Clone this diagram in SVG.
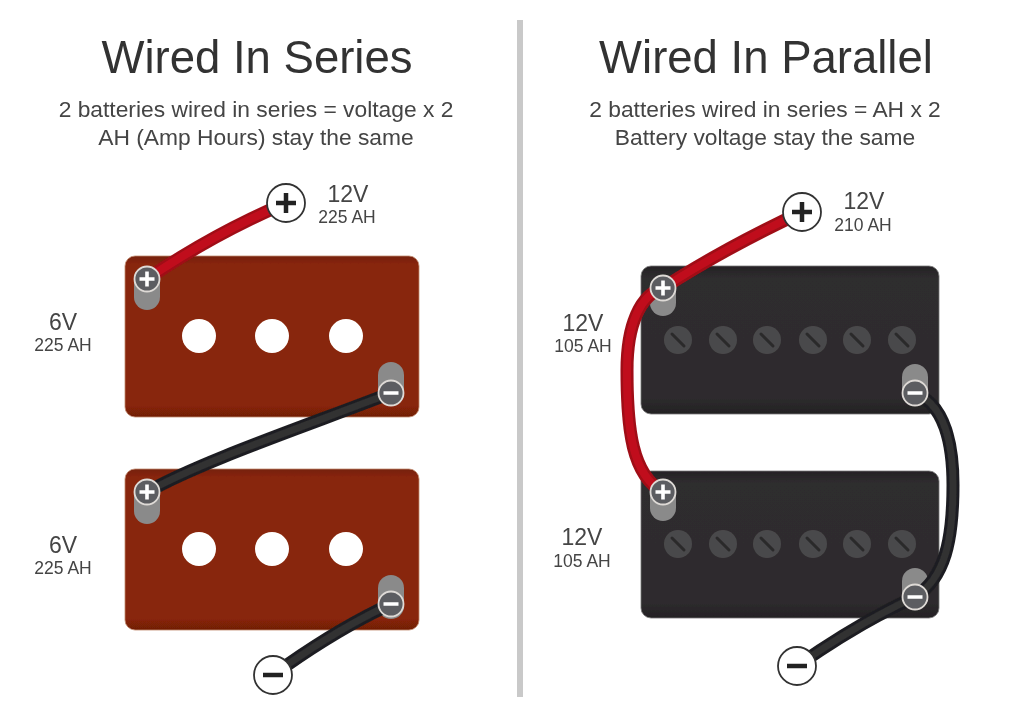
<svg xmlns="http://www.w3.org/2000/svg" width="1024" height="716" viewBox="0 0 1024 716">
<style>
text{font-family:"Liberation Sans",Arial,sans-serif;fill:#444;text-anchor:middle}
.t{font-size:45.500px;fill:#333}
.s{font-size:22.800px}
.v{font-size:23px}
.a{font-size:17.500px}
.red{fill:url(#gr);stroke:#c08a70;stroke-width:.8}
.blk{fill:url(#gk);stroke:#777;stroke-width:.8}
.hole{fill:#fff}
.screw{fill:#4a494b}
.slash{stroke:#2a292b;stroke-width:3;stroke-linecap:round}
.slot{fill:#8a8a8a}
.big{fill:#fff;stroke:#333;stroke-width:1.800}
.bigsym{stroke:#222;stroke-width:4.500;stroke-linecap:butt;fill:none}
.wr{fill:none;stroke:#a00c18;stroke-width:13}
.wrc{fill:none;stroke:#c00f1e;stroke-width:8}
.wk{fill:none;stroke:#1f1f21;stroke-width:13}
.wkc{fill:none;stroke:#303032;stroke-width:7}
.soft{filter:url(#b)}
</style>
<defs>
<filter id="b" x="-5%" y="-5%" width="110%" height="110%"><feGaussianBlur stdDeviation="0.450"/></filter>
<linearGradient id="gr" x1="0" y1="0" x2="0" y2="1"><stop offset="0" stop-color="#74200a"/><stop offset=".05" stop-color="#882507"/><stop offset=".93" stop-color="#882507"/><stop offset="1" stop-color="#701e06"/></linearGradient>
<linearGradient id="gk" x1="0" y1="0" x2="0" y2="1"><stop offset="0" stop-color="#242224"/><stop offset=".08" stop-color="#2f2d2f"/><stop offset=".9" stop-color="#2d2b2d"/><stop offset="1" stop-color="#232123"/></linearGradient>
<g id="screw"><circle class="screw" r="14"/><path class="slash" d="M-6-6L6 6"/></g>
</defs>
<rect width="1024" height="716" fill="#fff"/>
<rect id="divider" x="517" y="20" width="6" height="677" fill="#c9c9c9"/>

<g id="titles" class="soft">
<text class="t" x="257" y="73">Wired In Series</text>
<text class="s" x="256" y="117">2 batteries wired in series = voltage x 2</text>
<text class="s" x="256" y="145">AH (Amp Hours) stay the same</text>
<text class="t" x="766" y="73">Wired In Parallel</text>
<text class="s" x="765" y="117">2 batteries wired in series = AH x 2</text>
<text class="s" x="765" y="145">Battery voltage stay the same</text>
</g>

<g id="battery-s1" class="soft">
<rect class="red" x="125" y="256" width="294" height="161" rx="10"/>
<circle class="hole" cx="199" cy="336" r="17"/><circle class="hole" cx="272" cy="336" r="17"/><circle class="hole" cx="346" cy="336" r="17"/>
<text class="v" x="63" y="330">6V</text><text class="a" x="63" y="351">225 AH</text>
</g>
<g id="battery-s2" class="soft">
<rect class="red" x="125" y="469" width="294" height="161" rx="10"/>
<circle class="hole" cx="199" cy="549" r="17"/><circle class="hole" cx="272" cy="549" r="17"/><circle class="hole" cx="346" cy="549" r="17"/>
<text class="v" x="63" y="553">6V</text><text class="a" x="63" y="574">225 AH</text>
</g>
<g id="battery-p1" class="soft">
<rect class="blk" x="641" y="266" width="298" height="148" rx="10"/>
<use href="#screw" x="678" y="340"/><use href="#screw" x="723" y="340"/><use href="#screw" x="767" y="340"/><use href="#screw" x="813" y="340"/><use href="#screw" x="857" y="340"/><use href="#screw" x="902" y="340"/>
<text class="v" x="583" y="331">12V</text><text class="a" x="583" y="352">105 AH</text>
</g>
<g id="battery-p2" class="soft">
<rect class="blk" x="641" y="471" width="298" height="147" rx="10"/>
<use href="#screw" x="678" y="544"/><use href="#screw" x="723" y="544"/><use href="#screw" x="767" y="544"/><use href="#screw" x="813" y="544"/><use href="#screw" x="857" y="544"/><use href="#screw" x="902" y="544"/>
<text class="v" x="582" y="545">12V</text><text class="a" x="582" y="567">105 AH</text>
</g>

<g id="slots" class="soft">
<rect class="slot" x="134" y="266" width="26" height="44" rx="13"/>
<rect class="slot" x="378" y="362" width="26" height="44" rx="13"/>
<rect class="slot" x="134" y="480" width="26" height="44" rx="13"/>
<rect class="slot" x="378" y="575" width="26" height="44" rx="13"/>
<rect class="slot" x="650" y="275" width="26" height="41" rx="13"/>
<rect class="slot" x="902" y="364" width="26" height="42" rx="13"/>
<rect class="slot" x="650" y="479" width="26" height="42" rx="13"/>
<rect class="slot" x="902" y="568" width="26" height="42" rx="13"/>
</g>

<g id="connectors" class="soft">
<path class="wr" d="M147 279Q215 233 286 203"/>
<path class="wrc" d="M147 279Q215 233 286 203"/>
<path class="wk" d="M147 492C200 462 300 428 391 393"/>
<path class="wkc" d="M147 492C200 462 300 428 391 393"/>
<path class="wk" d="M391 604Q335 630 273 675"/>
<path class="wkc" d="M391 604Q335 630 273 675"/>
<path class="wr" d="M663 288Q725 248 802 212"/>
<path class="wrc" d="M663 288Q725 248 802 212"/>
<path class="wr" d="M663 288C640 295 627 325 627 370C627 430 632 475 663 492"/>
<path class="wrc" d="M663 288C640 295 627 325 627 370C627 430 632 475 663 492"/>
<path class="wk" d="M915 393C945 405 953 445 953 485C953 540 945 578 915 597"/>
<path class="wkc" d="M915 393C945 405 953 445 953 485C953 540 945 578 915 597"/>
<path class="wk" d="M915 597Q860 622 797 666"/>
<path class="wkc" d="M915 597Q860 622 797 666"/>
</g>

<g id="terminals" fill="#5c5d61" stroke="#dedad6" stroke-width="1.800">
<circle cx="147" cy="279" r="12.500"/>
<circle cx="391" cy="393" r="12.500"/>
<circle cx="147" cy="492" r="12.500"/>
<circle cx="391" cy="604" r="12.500"/>
<circle cx="663" cy="288" r="12.500"/>
<circle cx="915" cy="393" r="12.500"/>
<circle cx="663" cy="492" r="12.500"/>
<circle cx="915" cy="597" r="12.500"/>
</g>
<path id="terminal-signs" fill="none" stroke="#ffffff" stroke-width="3.600" d="M139.500 279H154.500M147 271.500V286.500M383.500 393H398.500M139.500 492H154.500M147 484.500V499.500M383.500 604H398.500M655.500 288H670.500M663 280.500V295.500M907.500 393H922.500M655.500 492H670.500M663 484.500V499.500M907.500 597H922.500"/>

<g id="out-s-plus" class="soft"><circle class="big" cx="286" cy="203" r="19"/><path class="bigsym" d="M276 203H296M286 193V213"/>
<text class="v" x="348" y="202">12V</text><text class="a" x="347" y="223">225 AH</text></g>
<g id="out-s-minus" class="soft"><circle class="big" cx="273" cy="675" r="19"/><path class="bigsym" d="M263 675H283"/></g>
<g id="out-p-plus" class="soft"><circle class="big" cx="802" cy="212" r="19"/><path class="bigsym" d="M792 212H812M802 202V222"/>
<text class="v" x="864" y="209">12V</text><text class="a" x="863" y="231">210 AH</text></g>
<g id="out-p-minus" class="soft"><circle class="big" cx="797" cy="666" r="19"/><path class="bigsym" d="M787 666H807"/></g>
</svg>
